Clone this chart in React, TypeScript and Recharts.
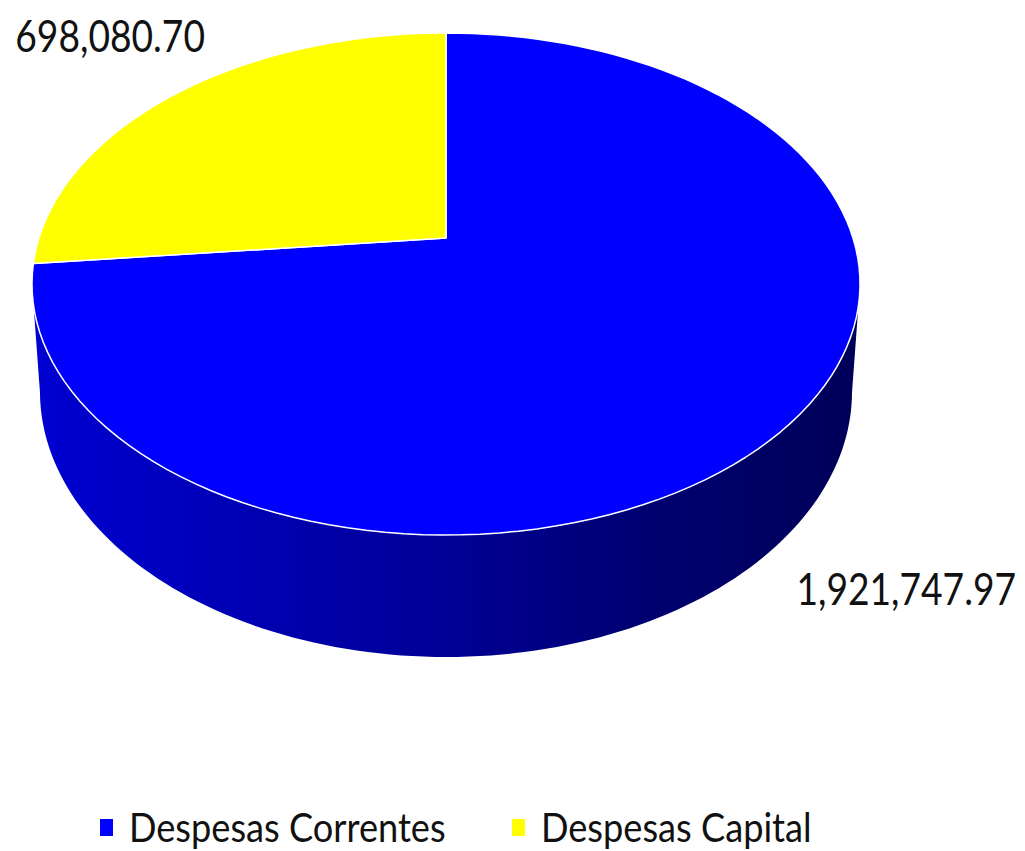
import React from 'react';
import { PieChart, Pie, Cell, Legend } from 'recharts';

// Despesas por categoria
const categories = ['Despesas Correntes', 'Despesas Capital'];
const values = [1921747.97, 698080.7];
const colors = ['#0000FF', '#FFFF00'];

const data = categories.map((name, i) => ({ name, value: values[i] }));

// tilted-disc perspective, all relative to the outer radius
const DEPTH = 0.596; // far/near squash of the top face
const PERSP = 0.1833; // how much smaller the far side looks
const WALL = 0.2644; // height of the side wall
const WALL_PERSP = 0.019;
const RAD = Math.PI / 180;
// angles where the wall is seen (left / right silhouette)
const WALL_FROM = 180 + Math.asin(PERSP) / RAD;
const WALL_TO = 360 - Math.asin(PERSP) / RAD;

function project(cx: number, cy: number, R: number, angle: number, r: number, bottom: boolean) {
  const X = r * Math.cos(angle * RAD);
  const Z = r * Math.sin(angle * RAD);
  const w = 1 + PERSP * Z + (bottom ? WALL_PERSP : 0);
  const x = cx + (R * X) / w;
  const y = cy - (R * (DEPTH * Z - (bottom ? WALL : 0))) / w;
  return [x, y];
}

function arc(cx: number, cy: number, R: number, a1: number, a2: number, bottom: boolean) {
  const pts: number[][] = [];
  const steps = 120;
  for (let i = 0; i <= steps; i++) {
    pts.push(project(cx, cy, R, a1 + ((a2 - a1) * i) / steps, 1, bottom));
  }
  return pts;
}

function shade(hex: string, k: number) {
  const n = parseInt(hex.slice(1), 16);
  const c = [(n >> 16) & 255, (n >> 8) & 255, n & 255].map((v) => Math.round(v * k));
  return `rgb(${c[0]},${c[1]},${c[2]})`;
}

function Slice(props: any) {
  const { cx, cy, outerRadius: R, startAngle, endAngle, fill, index } = props;

  const top = arc(cx, cy, R, startAngle, endAngle, false);
  const face =
    `M${cx},${cy} ` + top.map((p) => `L${p[0].toFixed(2)},${p[1].toFixed(2)}`).join(' ') + ' Z';

  // side wall, only the part facing us
  const lo = Math.min(startAngle, endAngle);
  const hi = Math.max(startAngle, endAngle);
  const walls: string[] = [];
  [-360, 0, 360].forEach((k) => {
    const a1 = Math.max(lo, WALL_FROM + k);
    const a2 = Math.min(hi, WALL_TO + k);
    if (a2 > a1) {
      const t = arc(cx, cy, R, a1, a2, false);
      const b = arc(cx, cy, R, a1, a2, true).reverse();
      walls.push(
        [...t, ...b].map((p, i) => `${i ? 'L' : 'M'}${p[0].toFixed(2)},${p[1].toFixed(2)}`).join(' ') + ' Z'
      );
    }
  });

  const gid = `wall-${index}`;
  return (
    <g>
      <defs>
        <linearGradient id={gid} gradientUnits="userSpaceOnUse" x1={cx - R} y1={0} x2={cx + R} y2={0}>
          <stop offset="0%" stopColor={shade(fill, 0.82)} />
          <stop offset="35%" stopColor={shade(fill, 0.66)} />
          <stop offset="50%" stopColor={shade(fill, 0.59)} />
          <stop offset="75%" stopColor={shade(fill, 0.44)} />
          <stop offset="100%" stopColor={shade(fill, 0.35)} />
        </linearGradient>
      </defs>
      {walls.map((d, i) => (
        <path key={i} d={d} fill={`url(#${gid})`} stroke="none" />
      ))}
      <path d={face} fill={fill} stroke="#fff" strokeWidth={1.5} strokeLinejoin="round" />
    </g>
  );
}

const fmt = (v: number) =>
  v.toLocaleString('en-US', { minimumFractionDigits: 2, maximumFractionDigits: 2 });

function renderLabel(props: any) {
  const { cx, cy, outerRadius, midAngle, value } = props;
  const front = Math.sin(midAngle * RAD) < 0;
  const [x, y] = project(cx, cy, outerRadius, midAngle, 1.3, front);
  return (
    <text
      transform={`translate(${x + 3},${y - 4}) scale(0.845,1)`}
      textAnchor="middle"
      fontFamily="Lato, 'Open Sans', sans-serif"
      fontSize={44}
      fill="#111"
    >
      {fmt(value)}
    </text>
  );
}

function renderLegend(props: any) {
  const payload = [...(props.payload || [])].sort(
    (a: any, b: any) => categories.indexOf(a.value) - categories.indexOf(b.value)
  );
  return (
    <svg width={1025} height={51} style={{ display: 'block' }}>
      {payload.map((entry: any, i: number) => {
        const x = 100 + i * 412;
        return (
          <g key={entry.value}>
            <rect x={x} y={19} width={13} height={17} fill={entry.color || colors[i]} />
            <text
              transform={`translate(${x + 29},42) scale(0.905,1)`}
              fontFamily="Lato, 'Open Sans', sans-serif"
              fontSize={40}
              fill="#111"
            >
              {entry.value}
            </text>
          </g>
        );
      })}
    </svg>
  );
}

export default function App() {
  return (
    <div style={{ position: 'absolute', left: 0, top: 0, width: 1025, height: 851, background: '#fff' }}>
      <PieChart width={1025} height={851} margin={{ top: 0, right: 0, bottom: 0, left: 0 }}>
        <Pie
          data={data}
          dataKey="value"
          nameKey="name"
          cx={446}
          cy={238}
          outerRadius={407}
          startAngle={90}
          endAngle={-270}
          stroke="#fff"
          label={renderLabel}
          labelLine={false}
          shape={Slice}
          isAnimationActive={false}
        >
          {data.map((d, i) => (
            <Cell key={d.name} fill={colors[i]} />
          ))}
        </Pie>
        <Legend
          verticalAlign="bottom"
          content={renderLegend}
          wrapperStyle={{ left: 0, top: 800, bottom: 'auto', width: 1025, height: 51 }}
        />
      </PieChart>
    </div>
  );
}
